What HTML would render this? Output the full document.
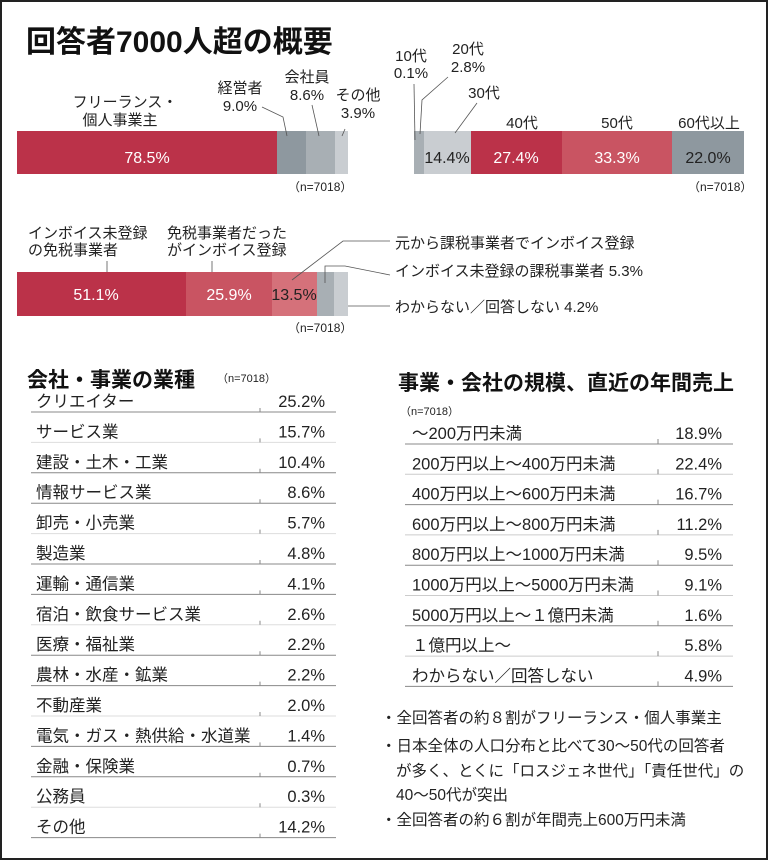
<!DOCTYPE html>
<html><head><meta charset="utf-8"><style>
html,body{margin:0;padding:0;background:#fff}
svg{display:block}
text{font-family:"Liberation Sans","Noto Sans CJK JP",sans-serif;fill:#222}
</style></head><body>
<svg width="768" height="860" viewBox="0 0 768 860" xmlns="http://www.w3.org/2000/svg">
<rect x="1" y="1" width="766" height="858" fill="#fff" stroke="#222" stroke-width="2"/>
<text x="26" y="52" font-size="30" font-weight="bold" style="fill:#111">回答者7000人超の概要</text>

<!-- bar1 -->
<rect x="17" y="131" width="260" height="43" fill="#bb3249"/>
<rect x="277" y="131" width="29" height="43" fill="#8e989f"/>
<rect x="306" y="131" width="29" height="43" fill="#a8afb4"/>
<rect x="335" y="131" width="13" height="43" fill="#c9cdd1"/>
<text x="147" y="163" font-size="16" style="fill:#fff" text-anchor="middle">78.5%</text>
<g font-size="15" text-anchor="middle">
<text x="125" y="107">フリーランス・</text>
<text x="120" y="125">個人事業主</text>
<text x="240" y="93">経営者</text>
<text x="240" y="111">9.0%</text>
<text x="307" y="82">会社員</text>
<text x="307" y="100">8.6%</text>
<text x="358" y="100">その他</text>
<text x="358" y="118">3.9%</text>
</g>
<g stroke="#555" stroke-width="0.8" fill="none">
<polyline points="262,107 283,117 287,136"/>
<line x1="312" y1="105" x2="319" y2="136"/>
<line x1="345" y1="129" x2="342" y2="136"/>
</g>
<text x="288" y="191" font-size="12">（n=7018）</text>

<!-- bar2 -->
<rect x="414" y="131" width="10" height="43" fill="#a8afb4"/>
<rect x="424" y="131" width="47" height="43" fill="#c9cdd1"/>
<rect x="471" y="131" width="91" height="43" fill="#bb3249"/>
<rect x="562" y="131" width="110" height="43" fill="#c95462"/>
<rect x="672" y="131" width="72" height="43" fill="#8e989f"/>
<text x="447" y="163" font-size="16" text-anchor="middle">14.4%</text>
<text x="516" y="163" font-size="16" style="fill:#fff" text-anchor="middle">27.4%</text>
<text x="617" y="163" font-size="16" style="fill:#fff" text-anchor="middle">33.3%</text>
<text x="708" y="163" font-size="16" text-anchor="middle">22.0%</text>
<g font-size="15" text-anchor="middle">
<text x="411" y="61">10代</text>
<text x="411" y="78">0.1%</text>
<text x="468" y="54">20代</text>
<text x="468" y="72">2.8%</text>
<text x="484" y="98">30代</text>
<text x="522" y="128">40代</text>
<text x="617" y="128">50代</text>
<text x="709" y="128">60代以上</text>
</g>
<g stroke="#555" stroke-width="0.8" fill="none">
<line x1="414" y1="84" x2="415" y2="140"/>
<polyline points="448,77 422,100 420,134"/>
<line x1="477" y1="103" x2="455" y2="133"/>
</g>
<text x="688" y="191" font-size="12">（n=7018）</text>

<!-- bar3 -->
<g font-size="15">
<text x="28" y="238">インボイス未登録</text>
<text x="28" y="255">の免税事業者</text>
<text x="167" y="238">免税事業者だった</text>
<text x="167" y="255">がインボイス登録</text>
</g>
<rect x="17" y="272" width="169" height="44" fill="#bb3249"/>
<rect x="186" y="272" width="86" height="44" fill="#c95462"/>
<rect x="272" y="272" width="45" height="44" fill="#d5717a"/>
<rect x="317" y="272" width="17" height="44" fill="#a8afb4"/>
<rect x="334" y="272" width="14" height="44" fill="#c9cdd1"/>
<text x="96" y="300" font-size="16" style="fill:#fff" text-anchor="middle">51.1%</text>
<text x="229" y="300" font-size="16" style="fill:#fff" text-anchor="middle">25.9%</text>
<text x="294" y="300" font-size="16" text-anchor="middle">13.5%</text>
<g stroke="#555" stroke-width="0.8" fill="none">
<line x1="107" y1="261" x2="107" y2="272"/>
<line x1="212" y1="261" x2="212" y2="272"/>
<polyline points="292,280 343,241 390,241"/>
<polyline points="325,283 325,266 345,266 390,275"/>
<line x1="348" y1="306" x2="390" y2="306"/>
</g>
<g font-size="15">
<text x="395" y="248">元から課税事業者でインボイス登録</text>
<text x="395" y="276">インボイス未登録の課税事業者 5.3%</text>
<text x="395" y="312">わからない／回答しない 4.2%</text>
</g>
<text x="288" y="332" font-size="12">（n=7018）</text>

<!-- industry table -->
<text x="27" y="387" font-size="21" font-weight="bold" style="fill:#111">会社・事業の業種</text>
<text x="217" y="382" font-size="11">（n=7018）</text>

<!-- revenue table -->
<text x="398" y="390" font-size="21" font-weight="bold" style="fill:#111">事業・会社の規模、直近の年間売上</text>
<text x="400" y="415" font-size="11">（n=7018）</text>

<g font-size="15.5">
<text x="381" y="723">・全回答者の約８割がフリーランス・個人事業主</text>
<text x="381" y="751">・日本全体の人口分布と比べて30～50代の回答者</text>
<text x="396" y="776">が多く、とくに「ロスジェネ世代」「責任世代」の</text>
<text x="396" y="800">40～50代が突出</text>
<text x="381" y="825">・全回答者の約６割が年間売上600万円未満</text>
</g>

<g id="rows"></g>
<script>
const ns="http://www.w3.org/2000/svg";
const g=document.getElementById('rows');
function add(tag,attrs,txt){const e=document.createElementNS(ns,tag);for(const k in attrs)e.setAttribute(k,attrs[k]);if(txt!==undefined)e.textContent=txt;g.appendChild(e);}
const t1=[["クリエイター","25.2%"],["サービス業","15.7%"],["建設・土木・工業","10.4%"],["情報サービス業","8.6%"],["卸売・小売業","5.7%"],["製造業","4.8%"],["運輸・通信業","4.1%"],["宿泊・飲食サービス業","2.6%"],["医療・福祉業","2.2%"],["農林・水産・鉱業","2.2%"],["不動産業","2.0%"],["電気・ガス・熱供給・水道業","1.4%"],["金融・保険業","0.7%"],["公務員","0.3%"],["その他","14.2%"]];
t1.forEach((r,i)=>{const y=412+i*30.4;
add('text',{x:36,y:y-5,'font-size':16.5},r[0]);
add('text',{x:325,y:y-5,'font-size':16.5,'text-anchor':'end'},r[1]);
add('line',{x1:31,x2:336,y1:y,y2:y,stroke:i%3==1?'#ddd':'#888','stroke-width':1});
add('line',{x1:260,x2:260,y1:y-4,y2:y,stroke:'#888','stroke-width':1});});
const t2=[["～200万円未満","18.9%"],["200万円以上～400万円未満","22.4%"],["400万円以上～600万円未満","16.7%"],["600万円以上～800万円未満","11.2%"],["800万円以上～1000万円未満","9.5%"],["1000万円以上～5000万円未満","9.1%"],["5000万円以上～１億円未満","1.6%"],["１億円以上～","5.8%"],["わからない／回答しない","4.9%"]];
t2.forEach((r,i)=>{const y=444+i*30.3;
add('text',{x:412,y:y-5,'font-size':16.5},r[0]);
add('text',{x:722,y:y-5,'font-size':16.5,'text-anchor':'end'},r[1]);
add('line',{x1:405,x2:733,y1:y,y2:y,stroke:i%2==0?'#888':'#ccc','stroke-width':1});
add('line',{x1:658,x2:658,y1:y-5,y2:y,stroke:'#888','stroke-width':1});});
</script>
</svg>
</body></html>
